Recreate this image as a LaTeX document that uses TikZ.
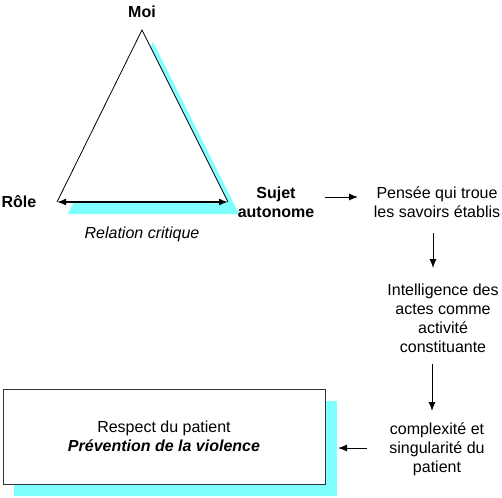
\documentclass[tikz,border=0pt]{standalone}
\usepackage{fontspec}
\setmainfont{Liberation Sans}
\usetikzlibrary{arrows.meta}
\definecolor{shadowcyan}{RGB}{128,255,255}
\tikzset{
  txt/.style={align=center, font=\fontsize{16}{19}\selectfont, inner sep=0pt},
  btxt/.style={txt, font=\fontsize{16}{19}\selectfont\bfseries},
  arr/.style={-{Latex[length=9pt,width=7pt]}, line width=1pt},
}
\begin{document}
\begin{tikzpicture}[x=1pt,y=-1pt]
\useasboundingbox (0,0) rectangle (502,497);
% triangle shadow and triangle
\fill[shadowcyan] (153,42) -- (68,214) -- (239,214) -- cycle;
\coordinate (top) at (142,30);
\coordinate (bl) at (57,202);
\coordinate (br) at (228,202);
\fill[white] (top) -- (bl) -- (br) -- cycle;
\draw[line width=0.8pt] (bl) -- (top) -- (br);
\draw[{Latex[length=9pt,width=7pt]}-{Latex[length=9pt,width=7pt]}, line width=1.6pt] (bl) -- (br);
% labels
\node[btxt] (moi) at (142,12) {Moi};
\node[btxt] (role) at (19,202) {Rôle};
\node[btxt] (sujet) at (276,202) {Sujet\\autonome};
\node[txt, font=\fontsize{16}{19}\selectfont\itshape] (rel) at (142,234) {Relation critique};
% right column
\node[txt] (pensee) at (437,202) {Pensée qui troue\\les savoirs établis};
\node[txt] (intel) at (443,318) {Intelligence des\\actes comme\\activité\\constituante};
\node[txt] (compl) at (437,449) {complexité et\\singularité du\\patient};
% box
\fill[shadowcyan] (14,401) rectangle (337,496);
\node[draw=black!80, line width=1pt, fill=white, minimum width=322pt, minimum height=95pt, txt] (box) at (164,436.5) {Respect du patient\\\textbf{\textit{Prévention de la violence}}};
% arrows
\coordinate (a1s) at (325,197);
\coordinate (a1e) at (358,197);
\draw[arr] (a1s) -- (a1e);
\coordinate (a2s) at (433,233);
\coordinate (a2e) at (433,268);
\draw[arr] (a2s) -- (a2e);
\coordinate (a3s) at (432,364);
\coordinate (a3e) at (432,411);
\draw[arr] (a3s) -- (a3e);
\coordinate (a4s) at (367,448);
\coordinate (a4e) at (338,448);
\draw[arr] (a4s) -- (a4e);
\end{tikzpicture}
\end{document}
